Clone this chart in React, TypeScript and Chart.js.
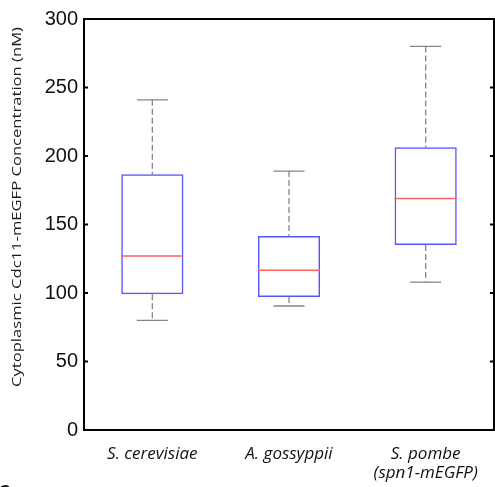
import React, { useEffect, useRef } from "react";
import { Chart, registerables } from "chart.js";

Chart.register(...registerables);

const categories: (string | string[])[] = [
  "S. cerevisiae",
  "A. gossyppii",
  ["S. pombe", "(spn1-mEGFP)"],
];
const whiskerLow = [80, 90.5, 108];
const quartile1 = [99, 97, 135];
const medians = [127, 116.6, 169];
const quartile3 = [186.6, 141.6, 206.3];
const whiskerHigh = [241, 189, 280];
const yTicks = [0, 50, 100, 150, 200, 250, 300];
const yTitle = "Cytoplasmic Cdc11-mEGFP Concentration (nM)";

const boxPlotPlugin = {
  id: "boxExtras",
  afterDatasetsDraw(chart: any) {
    const { ctx, scales } = chart;
    const y = scales.y;
    const meta = chart.getDatasetMeta(0);
    ctx.save();
    meta.data.forEach((bar: any, i: number) => {
      const cx = bar.x;
      const halfBox = bar.width / 2;
      const halfCap = halfBox / 2;
      const yLow = y.getPixelForValue(whiskerLow[i]);
      const yQ1 = y.getPixelForValue(quartile1[i]);
      const yQ3 = y.getPixelForValue(quartile3[i]);
      const yHigh = y.getPixelForValue(whiskerHigh[i]);
      const yMed = y.getPixelForValue(medians[i]);
      ctx.strokeStyle = "#858585";
      ctx.lineWidth = 1.3;
      ctx.setLineDash([6, 3]);
      ctx.beginPath();
      ctx.moveTo(cx, yHigh);
      ctx.lineTo(cx, yQ3);
      ctx.moveTo(cx, yQ1);
      ctx.lineTo(cx, yLow);
      ctx.stroke();
      ctx.setLineDash([]);
      ctx.beginPath();
      ctx.moveTo(cx - halfCap, yHigh);
      ctx.lineTo(cx + halfCap, yHigh);
      ctx.moveTo(cx - halfCap, yLow);
      ctx.lineTo(cx + halfCap, yLow);
      ctx.stroke();
      ctx.strokeStyle = "#ff6060";
      ctx.lineWidth = 1.5;
      ctx.beginPath();
      ctx.moveTo(cx - halfBox, yMed);
      ctx.lineTo(cx + halfBox, yMed);
      ctx.stroke();
    });
    ctx.restore();
  },
  afterDraw(chart: any) {
    const { ctx, chartArea, scales } = chart;
    const y = scales.y;
    ctx.save();
    ctx.strokeStyle = "#000";
    ctx.lineWidth = 2;
    ctx.strokeRect(
      chartArea.left,
      chartArea.top,
      chartArea.right - chartArea.left,
      chartArea.bottom - chartArea.top
    );
    ctx.beginPath();
    yTicks.forEach((v) => {
      const py = y.getPixelForValue(v);
      ctx.moveTo(chartArea.left, py);
      ctx.lineTo(chartArea.left + 4, py);
      ctx.moveTo(chartArea.right, py);
      ctx.lineTo(chartArea.right - 4, py);
    });
    ctx.stroke();
    ctx.font = "12.5px 'Open Sans', sans-serif";
    ctx.fillStyle = "#1a1a1a";
    const w = ctx.measureText(yTitle).width;
    const target = 360;
    ctx.translate(21, 207);
    ctx.rotate(-Math.PI / 2);
    ctx.scale(target / w, 1);
    ctx.textAlign = "center";
    ctx.textBaseline = "alphabetic";
    ctx.fillText(yTitle, 0, 0);
    ctx.restore();
  },
};

export default function App() {
  const canvasRef = useRef<HTMLCanvasElement | null>(null);

  useEffect(() => {
    const canvas = canvasRef.current;
    if (!canvas) return;
    const chart = new Chart(canvas, {
      type: "bar",
      data: {
        labels: categories as any,
        datasets: [
          {
            label: "IQR",
            data: quartile1.map((q, i) => [q, quartile3[i]]) as any,
            backgroundColor: "rgba(0,0,0,0)",
            borderColor: "rgb(85,85,255)",
            borderWidth: 1.5,
            borderSkipped: false,
            barPercentage: 0.455,
            categoryPercentage: 1,
          },
        ],
      },
      options: {
        responsive: false,
        animation: false,
        devicePixelRatio: 1,
        layout: { padding: { top: 19, right: 1, left: 0, bottom: 0 } },
        plugins: {
          legend: { display: false },
          tooltip: { enabled: false },
        },
        scales: {
          x: {
            grid: { display: false, drawTicks: false },
            border: { display: false },
            ticks: {
              color: "#111",
              font: {
                family: "'Open Sans', sans-serif",
                size: 17,
                style: "italic",
                lineHeight: 1.15,
              },
              padding: 14,
              maxRotation: 0,
              autoSkip: false,
            },
            afterFit: (s: any) => {
              s.height = 57;
            },
          },
          y: {
            min: 0,
            max: 300,
            grid: { display: false, drawTicks: false },
            border: { display: false },
            ticks: {
              stepSize: 50,
              color: "#111",
              padding: 6,
              font: { family: "'Liberation Sans', Arial, sans-serif", size: 20 },
            },
            afterFit: (s: any) => {
              s.width = 84;
            },
          },
        },
      },
      plugins: [boxPlotPlugin],
    });
    return () => chart.destroy();
  }, []);

  return (
    <div
      style={{
        position: "fixed",
        left: 0,
        top: 0,
        width: 495,
        height: 487,
        overflow: "hidden",
        background: "#fff",
      }}
    >
      <canvas ref={canvasRef} width={495} height={487} style={{ display: "block" }} />
      <div
        style={{
          position: "absolute",
          left: -1,
          top: 484,
          fontFamily: "'Liberation Sans', Arial, sans-serif",
          fontWeight: "bold",
          fontSize: 16,
          lineHeight: "16px",
          color: "#111",
        }}
      >
        C
      </div>
    </div>
  );
}
